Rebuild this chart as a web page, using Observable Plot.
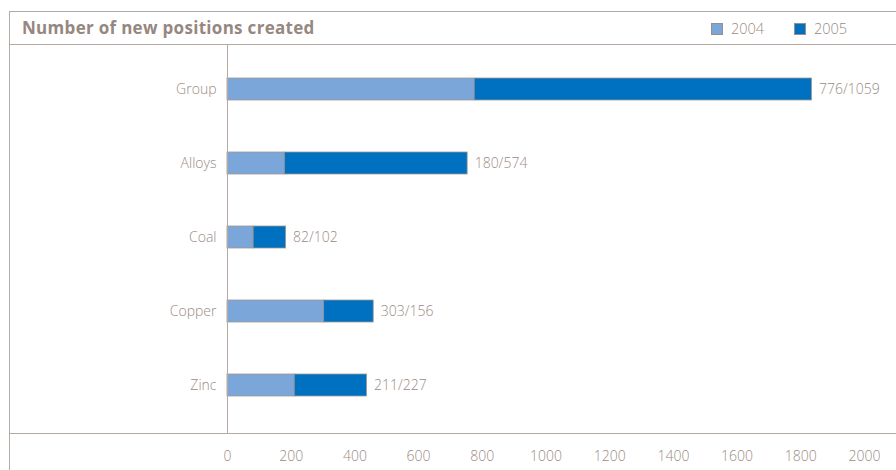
<!DOCTYPE html>
<html>
<head>
<meta charset="utf-8">
<script src="https://cdn.jsdelivr.net/npm/d3@7"></script>
<script src="https://cdn.jsdelivr.net/npm/@observablehq/plot@0.6"></script>
<style>
  body { margin: 0; background: #fff; font-family: "Open Sans", sans-serif; }
  #wrap { position: relative; width: 896px; height: 470px; overflow: hidden; }
  #header { position: absolute; left: 9px; top: 11px; width: 887px; height: 32px;
            border-top: 1px solid #b5aaa3; border-bottom: 1px solid #b5aaa3; }
  #vline { position: absolute; left: 9px; top: 11px; width: 1px; height: 459px; background: #b5aaa3; }
  #botline { position: absolute; left: 9px; top: 433px; width: 887px; height: 1px; background: #b5aaa3; }
  #title { position: absolute; left: 13px; top: 4px; font-size: 17px; letter-spacing: 0.3px; font-weight: 700; color: #968780; }
  .leg { position: absolute; top: 7px; font-size: 14.5px; font-weight: 300; color: #9a8b84; display: flex; align-items: center; }
  .sw { display: inline-block; width: 10px; height: 10px; border: 1px solid #9a8f88; margin-right: 8px; }
  #chart { position: absolute; left: 0; top: 44px; }
  #chart svg text { font-weight: 300; }
</style>
</head>
<body>
<div id="wrap">
  <div id="header">
    <div id="title">Number of new positions created</div>
    <div class="leg" style="left:702px"><span class="sw" style="background:#7aa6d9"></span>2004</div>
    <div class="leg" style="left:785px"><span class="sw" style="background:#0070c0"></span>2005</div>
  </div>
  <div id="vline"></div>
  <div id="chart"></div>
  <div id="botline"></div>
</div>
<script>
const categories = ["Group", "Alloys", "Coal", "Copper", "Zinc"];
const values2004 = [776, 180, 82, 303, 211];
const values2005 = [1059, 574, 102, 156, 227];
const years = ["2004", "2005"];
const colors = ["#7aa6d9", "#0070c0"];
const xTicks = [0, 200, 400, 600, 800, 1000, 1200, 1400, 1600, 1800, 2000];

const rows = [];
categories.forEach((c, i) => {
  rows.push({category: c, year: "2004", value: values2004[i]});
  rows.push({category: c, year: "2005", value: values2005[i]});
});
const totals = categories.map((c, i) => ({
  category: c, total: values2004[i] + values2005[i],
  label: `${values2004[i]}/${values2005[i]}`
}));

const textColor = "#9a8b84";
const chart = Plot.plot({
  width: 896,
  height: 426,
  marginLeft: 227,
  marginRight: 32,
  marginTop: 0,
  marginBottom: 37,
  style: {fontFamily: "Open Sans, sans-serif", fontSize: "14px", color: textColor, background: "transparent"},
  x: {domain: [0, 2000], ticks: xTicks, tickFormat: d => String(d), label: null},
  y: {domain: categories, range: [-2, 387], paddingInner: 0.7067, paddingOuter: 0.4467, label: null},
  color: {domain: years, range: colors},
  marks: [
    Plot.barX(rows, Plot.stackX({y: "category", x: "value", fill: "year", order: years,
      stroke: "#a09690", strokeWidth: 0.8, inset: 0})),
    Plot.ruleX([0], {stroke: "#b5aaa3", strokeWidth: 1}),
    Plot.text(totals, {x: "total", y: "category", text: "label", textAnchor: "start", dx: 7,
      fill: textColor, fontSize: 14}),
    Plot.axisX({ticks: xTicks, tickSize: 0, tickPadding: 18, fill: textColor, fontSize: 14, tickFormat: d => String(d), label: null}),
    Plot.axisY({tickSize: 0, tickPadding: 11, fill: textColor, fontSize: 14, label: null})
  ]
});
document.getElementById("chart").appendChild(chart);
</script>
</body>
</html>
